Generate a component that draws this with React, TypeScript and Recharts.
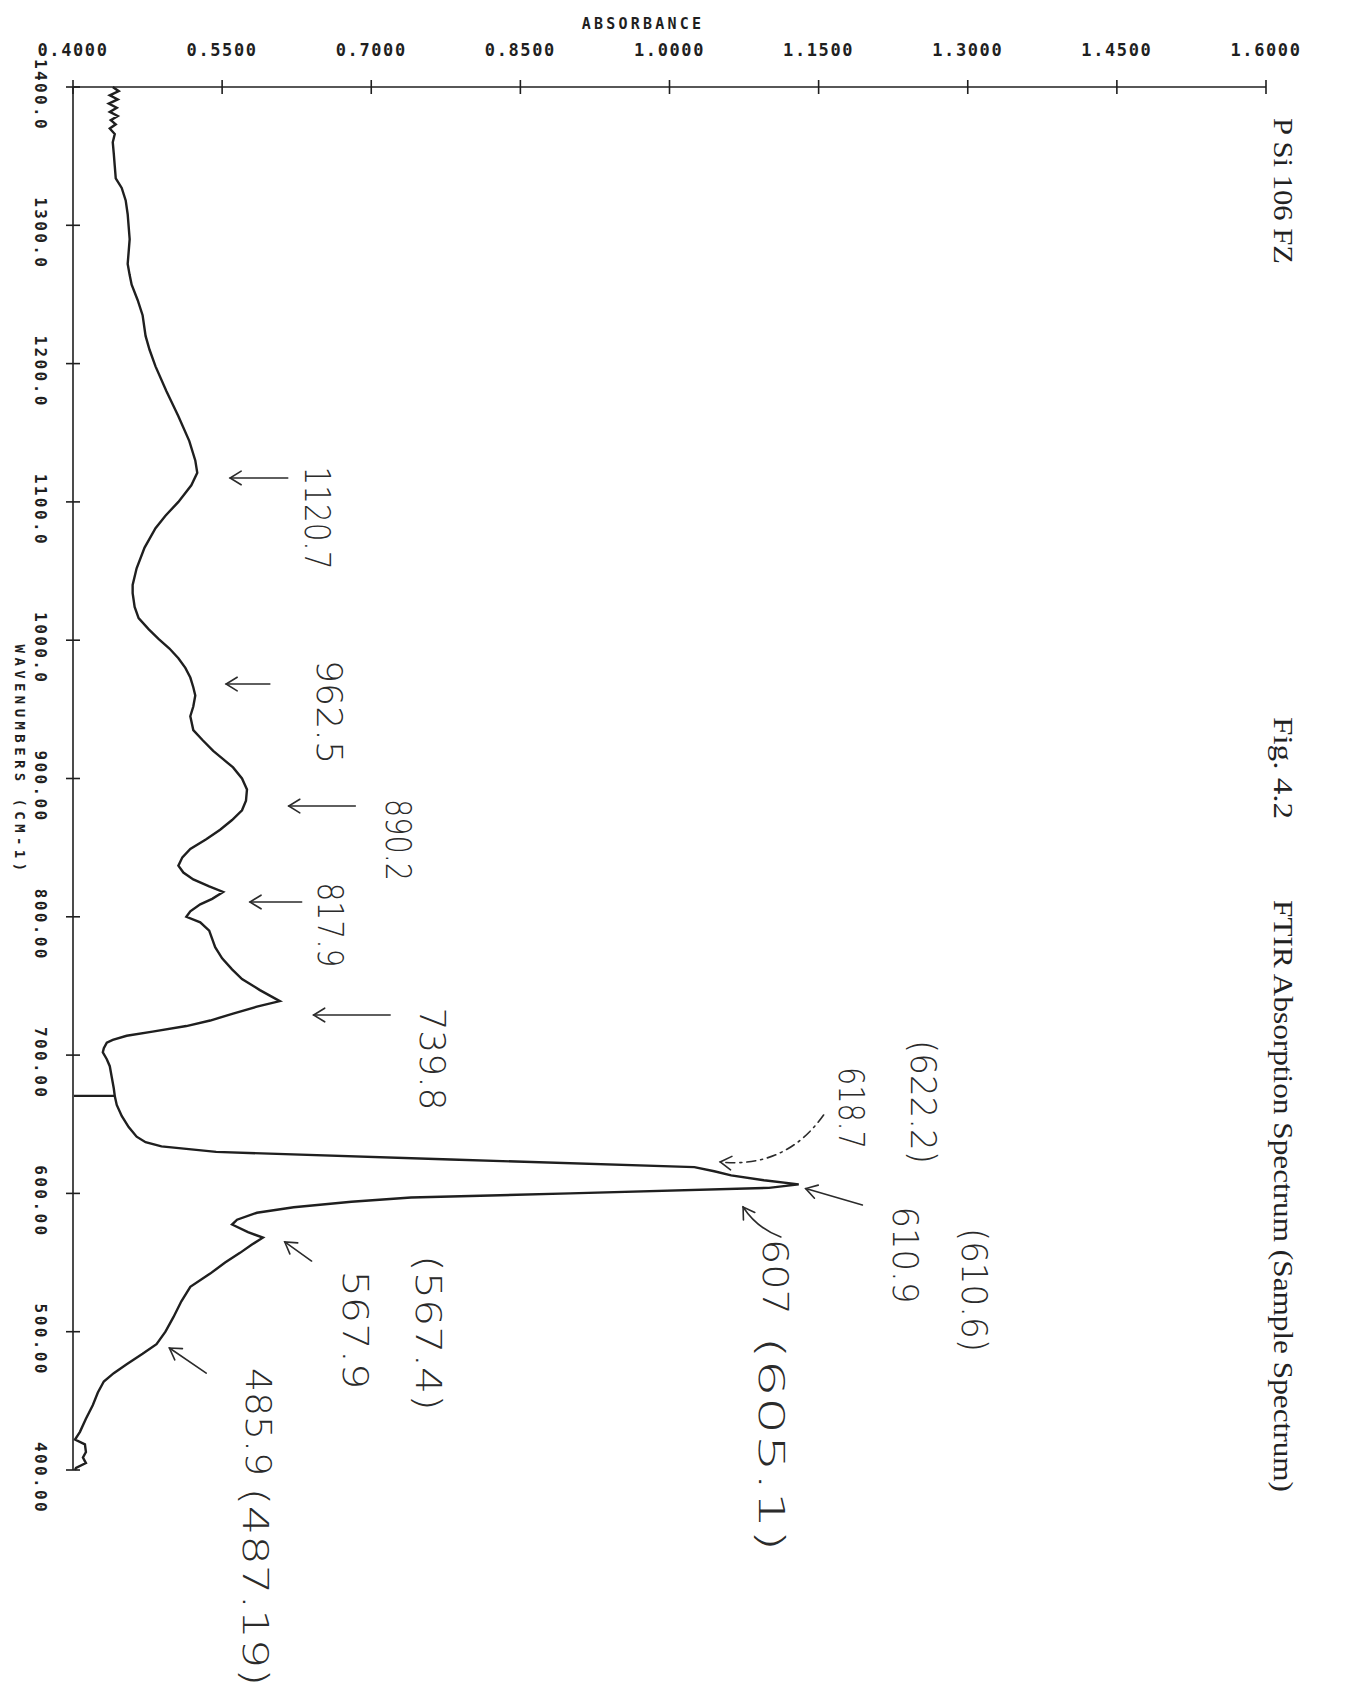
import React from 'react';
import { LineChart, Line, XAxis, YAxis, ReferenceDot, ReferenceLine } from 'recharts';

// FTIR absorption spectrum, plotter output turned on its side:
// wavenumber runs down the page, absorbance runs to the right.
const wavenumbers = [
  1400, 1397, 1394, 1391, 1388, 1385, 1382, 1379, 1376, 1373,
  1370, 1366, 1360, 1352, 1343, 1334, 1327, 1318, 1308, 1290,
  1272, 1264, 1257, 1246, 1235, 1220, 1210, 1198, 1180, 1162,
  1144, 1130, 1121, 1112, 1100, 1090, 1081, 1067, 1052, 1040,
  1034, 1024, 1016, 1008, 1001, 994, 987, 980, 973, 966,
  960, 952, 945, 935, 928, 920, 914, 908, 900, 892,
  884, 877, 870, 863, 856, 849, 843, 837, 832, 827,
  822, 818, 813, 809, 804, 800, 796, 790, 784, 778,
  770, 762, 755, 747, 743, 739, 735, 730, 725, 721,
  717, 714, 711, 709, 705, 702, 697, 692, 684, 676,
  670.5, 670.5, 670.5, 664, 656, 648, 641, 637, 634, 630,
  624.5, 619, 616, 613, 609.5, 606.5, 604, 600, 597, 594,
  590, 586, 581, 577.5, 572, 568, 563, 557, 550, 542,
  532.5, 522, 510.5, 500, 491, 484, 476.4, 470, 464, 456,
  447, 437, 427.6, 422, 418.5, 413, 409, 405, 401.5, 400,
];

const absorbance = [
  0.44, 0.446, 0.437, 0.445, 0.436, 0.444, 0.437, 0.445, 0.438, 0.443,
  0.437, 0.442, 0.44, 0.441, 0.442, 0.443, 0.449, 0.453, 0.455, 0.457,
  0.455, 0.457, 0.459, 0.465, 0.47, 0.473, 0.477, 0.483, 0.494, 0.506,
  0.517, 0.523, 0.525, 0.519, 0.506, 0.493, 0.483, 0.472, 0.464, 0.46,
  0.46, 0.462, 0.466, 0.476, 0.486, 0.497, 0.506, 0.513, 0.518, 0.521,
  0.523, 0.521, 0.518, 0.521, 0.53, 0.541, 0.551, 0.561, 0.57, 0.575,
  0.574, 0.57, 0.56, 0.548, 0.534, 0.518, 0.51, 0.506, 0.511, 0.521,
  0.537, 0.551, 0.54, 0.528, 0.518, 0.514, 0.528, 0.537, 0.54, 0.543,
  0.55, 0.56, 0.57, 0.588, 0.598, 0.608, 0.585, 0.561, 0.538, 0.514,
  0.48, 0.454, 0.44, 0.434, 0.431, 0.43, 0.434, 0.437, 0.439, 0.441,
  0.442, 0.401, 0.442, 0.444, 0.449, 0.456, 0.464, 0.473, 0.489, 0.544,
  0.78, 1.025, 1.045, 1.062, 1.095, 1.13, 1.1, 0.9, 0.74, 0.68,
  0.622, 0.585, 0.565, 0.56, 0.576, 0.591, 0.58, 0.568, 0.553, 0.538,
  0.518, 0.509, 0.501, 0.493, 0.484, 0.47, 0.454, 0.441, 0.431, 0.425,
  0.42, 0.413, 0.407, 0.402, 0.412, 0.413, 0.41, 0.413, 0.403, 0.402,
];

const absTicks = [0.4, 0.55, 0.7, 0.85, 1.0, 1.15, 1.3, 1.45, 1.6];
const wnTicks = [1400, 1300, 1200, 1100, 1000, 900, 800, 700, 600, 500, 400];

// hand-written peak notes, anchored in chart units
const noteText = [
  '1120.7', '962.5', '890.2', '817.9', '739.8', '(622.2)', '618.7', '610.9',
  '(610.6)', '607', '(605.1)', '(567.4)', '567.9', '485.9', '(487.19)',
];
const noteWn = [1088.4, 948.1, 855.5, 794.1, 697.2, 666.1, 661.8, 555.5, 530.2, 539.6, 418.8, 499.1, 501.3, 434.7, 315.4];
const noteAbs = [0.646, 0.658, 0.727, 0.659, 0.762, 1.255, 1.183, 1.237, 1.307, 1.107, 1.103, 0.758, 0.684, 0.587, 0.584];

// hand-drawn arrows: tail -> head
const arrowTailWn = [1117.3, 968.3, 880.1, 810.7, 729.0, 656.7, 591.6, 568.5, 551.1, 470.1];
const arrowTailAbs = [0.616, 0.598, 0.684, 0.63, 0.719, 1.155, 1.194, 1.112, 0.64, 0.534];
const arrowHeadWn = [1117.3, 968.3, 880.1, 810.7, 729.0, 622.7, 603.5, 590.2, 564.9, 488.2];
const arrowHeadAbs = [0.558, 0.554, 0.617, 0.578, 0.642, 1.051, 1.137, 1.074, 0.613, 0.497];

const titleTexts = ['P Si 106 FZ', 'Fig. 4.2', 'FTIR Absorption Spectrum (Sample Spectrum)'];

// styling only
const noteSpan = [103, 104, 82, 85, 103, 124, 82, 97, 124, 76, 216, 156, 119, 108, 199];
const arrowBend = [0, 0, 0, 0, 0, 33, 0, 8, 0, 0];
const arrowDashed = [false, false, false, false, false, true, false, false, false, false];
const titleCenterY = [191, 768, 1196];
const titleSpan = [146, 102, 592];

const INK = '#1f1f1f';
const PEN = '#2b2b2b';
const PLOT_FONT = '"DejaVu Sans Mono", "Liberation Mono", monospace';
const HAND_FONT = '"DejaVu Sans", "Liberation Sans", sans-serif';

const data = wavenumbers.map((w, i) => ({ w, a: absorbance[i] }));

const AbsTick = (props: any) => {
  const { x, y, payload } = props;
  return (
    <g>
      <line x1={x} x2={x} y1={y - 7} y2={y + 7} stroke={INK} strokeWidth={1.6} />
      <text
        x={x}
        y={y - 31}
        textAnchor="middle"
        fontFamily={PLOT_FONT}
        fontSize={17}
        fontWeight={700}
        letterSpacing={1.6}
        fill={INK}
      >
        {Number(payload.value).toFixed(4)}
      </text>
    </g>
  );
};

const WnTick = (props: any) => {
  const { x, y, payload } = props;
  const v = Number(payload.value);
  const label = v >= 1000 ? v.toFixed(1) : v.toFixed(2);
  return (
    <g>
      <line x1={x - 7} x2={x + 7} y1={y} y2={y} stroke={INK} strokeWidth={1.6} />
      <text
        transform={`translate(${x - 33},${y + 8}) rotate(90)`}
        textAnchor="middle"
        dominantBaseline="central"
        fontFamily={PLOT_FONT}
        fontSize={16}
        fontWeight={700}
        letterSpacing={2.4}
        fill={INK}
      >
        {label}
      </text>
    </g>
  );
};

const makeNote = (i: number) => (p: any) => (
  <text
    transform={`translate(${p.cx},${p.cy}) rotate(90)`}
    textAnchor="middle"
    dominantBaseline="central"
    fontFamily={HAND_FONT}
    fontWeight={300}
    fontSize={36}
    textLength={noteSpan[i]}
    lengthAdjust="spacingAndGlyphs"
    fill={PEN}
  >
    {noteText[i]}
  </text>
);

const makeArrow = (i: number) => (p: any) => {
  const { x1, y1, x2, y2 } = p;
  const dx = x2 - x1;
  const dy = y2 - y1;
  const len = Math.hypot(dx, dy) || 1;
  const bend = arrowBend[i];
  const cx = (x1 + x2) / 2 + (dy / len) * bend;
  const cy = (y1 + y2) / 2 - (dx / len) * bend;
  // direction of travel at the head
  const tx = bend ? x2 - cx : dx;
  const ty = bend ? y2 - cy : dy;
  const tl = Math.hypot(tx, ty) || 1;
  const ux = tx / tl;
  const uy = ty / tl;
  const head = 13;
  const ang = 0.55;
  const hx1 = x2 - head * (ux * Math.cos(ang) - uy * Math.sin(ang));
  const hy1 = y2 - head * (uy * Math.cos(ang) + ux * Math.sin(ang));
  const hx2 = x2 - head * (ux * Math.cos(ang) + uy * Math.sin(ang));
  const hy2 = y2 - head * (uy * Math.cos(ang) - ux * Math.sin(ang));
  const body = bend ? `M${x1},${y1} Q${cx},${cy} ${x2},${y2}` : `M${x1},${y1} L${x2},${y2}`;
  return (
    <g fill="none" stroke={PEN} strokeWidth={1.6} strokeLinecap="round">
      <path d={body} strokeDasharray={arrowDashed[i] ? '9 5 2 5' : undefined} />
      <path d={`M${hx1},${hy1} L${x2},${y2} L${hx2},${hy2}`} />
    </g>
  );
};

export default function App() {
  const W = 1349;
  const H = 1689;
  return (
    <div style={{ position: 'absolute', left: 0, top: 0, width: W, height: H, background: '#fff' }}>
      <LineChart
        width={W}
        height={H}
        data={data}
        layout="vertical"
        margin={{ top: 47, left: 13, right: 83, bottom: 219 }}
      >
        <XAxis
          type="number"
          orientation="top"
          domain={[0.4, 1.6]}
          ticks={absTicks}
          interval={0}
          height={40}
          tickSize={0}
          tickMargin={0}
          tickLine={false}
          axisLine={{ stroke: INK, strokeWidth: 1.6 }}
          tick={<AbsTick />}
        />
        <YAxis
          type="number"
          dataKey="w"
          domain={[400, 1400]}
          ticks={wnTicks}
          interval={0}
          reversed
          width={60}
          tickSize={0}
          tickMargin={0}
          tickLine={false}
          axisLine={{ stroke: INK, strokeWidth: 1.6 }}
          tick={<WnTick />}
        />
        <Line
          type="linear"
          dataKey="a"
          stroke={INK}
          strokeWidth={2.4}
          dot={false}
          activeDot={false}
          isAnimationActive={false}
        />
        {arrowTailWn.map((w, i) => (
          <ReferenceLine
            key={`arrow-${i}`}
            segment={[
              { x: arrowTailAbs[i], y: w },
              { x: arrowHeadAbs[i], y: arrowHeadWn[i] },
            ]}
            ifOverflow="visible"
            shape={makeArrow(i)}
          />
        ))}
        {noteText.map((t, i) => (
          <ReferenceDot
            key={`note-${t}-${i}`}
            x={noteAbs[i]}
            y={noteWn[i]}
            r={1}
            ifOverflow="visible"
            shape={makeNote(i)}
          />
        ))}
      </LineChart>
      <svg
        width={W}
        height={H}
        style={{ position: 'absolute', left: 0, top: 0, pointerEvents: 'none' }}
      >
        <text
          x={643}
          y={29}
          textAnchor="middle"
          fontFamily={PLOT_FONT}
          fontSize={15}
          fontWeight={700}
          letterSpacing={3.2}
          fill={INK}
        >
          ABSORBANCE
        </text>
        <text
          transform="translate(20,760) rotate(90)"
          textAnchor="middle"
          dominantBaseline="central"
          fontFamily={PLOT_FONT}
          fontSize={14}
          fontWeight={700}
          letterSpacing={4.4}
          fill={INK}
        >
          WAVENUMBERS (CM-1)
        </text>
        {titleTexts.map((t, i) => (
          <text
            key={t}
            transform={`translate(1283,${titleCenterY[i]}) rotate(90)`}
            textAnchor="middle"
            dominantBaseline="central"
            fontFamily='"Liberation Serif", "Times New Roman", serif'
            fontSize={27}
            textLength={titleSpan[i]}
            lengthAdjust="spacingAndGlyphs"
            fill="#222"
          >
            {t}
          </text>
        ))}
      </svg>
    </div>
  );
}
